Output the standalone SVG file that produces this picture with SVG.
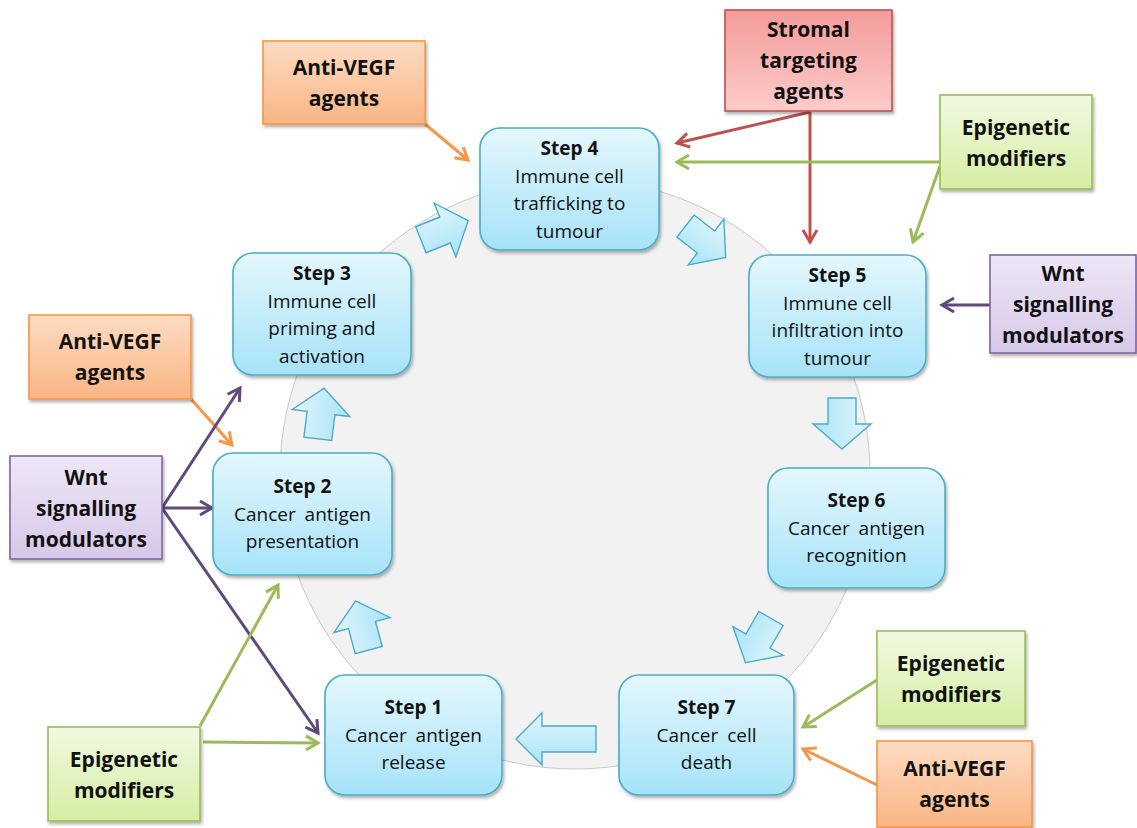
<svg xmlns="http://www.w3.org/2000/svg" width="1137" height="828" viewBox="0 0 1137 828">
<style>
.step{fill:url(#gStep);stroke:#4BACC6;stroke-width:1.6;filter:url(#sh)}
.ba{fill:url(#gArr);stroke:#4BACC6;stroke-width:1.4;stroke-linejoin:miter}
.t{font-family:"Open Sans","Noto Sans","Liberation Sans",sans-serif;font-size:19px;fill:#111;text-anchor:middle}
.tb{font-weight:bold}
.a{font-family:"Open Sans","Noto Sans","Liberation Sans",sans-serif;font-size:21px;font-weight:bold;fill:#111;text-anchor:middle}
.or{fill:url(#gOr);stroke:#F79646;stroke-width:1.6;filter:url(#sh)}
.gr{fill:url(#gGr);stroke:#9BBB59;stroke-width:1.6;filter:url(#sh)}
.pu{fill:url(#gPu);stroke:#8064A2;stroke-width:1.6;filter:url(#sh)}
.re{fill:url(#gRe);stroke:#C0504D;stroke-width:1.6;filter:url(#sh)}
.c{fill:none;stroke-width:3}
</style>
<defs>
<filter id="sh" x="-10%" y="-10%" width="130%" height="140%"><feDropShadow dx="1.5" dy="2.5" stdDeviation="1.8" flood-color="#000" flood-opacity="0.3"/></filter>
<linearGradient id="gStep" x1="0" y1="0" x2="0" y2="1"><stop offset="0" stop-color="#E4F7FD"/><stop offset="1" stop-color="#A6E3F8"/></linearGradient>
<linearGradient id="gArr" x1="0" y1="0" x2="0" y2="1"><stop offset="0" stop-color="#E2F6FD"/><stop offset="1" stop-color="#A8E3F7"/></linearGradient>
<linearGradient id="gOr" x1="0" y1="0" x2="0" y2="1"><stop offset="0" stop-color="#FDDCC3"/><stop offset="1" stop-color="#F9B584"/></linearGradient>
<linearGradient id="gGr" x1="0" y1="0" x2="0" y2="1"><stop offset="0" stop-color="#F1F9E3"/><stop offset="1" stop-color="#D5EEA2"/></linearGradient>
<linearGradient id="gPu" x1="0" y1="0" x2="0" y2="1"><stop offset="0" stop-color="#EEE7F6"/><stop offset="1" stop-color="#D6C8E8"/></linearGradient>
<linearGradient id="gRe" x1="0" y1="0" x2="0" y2="1"><stop offset="0" stop-color="#F29C9A"/><stop offset="1" stop-color="#FCCBCA"/></linearGradient>
<marker id="mO" viewBox="0 0 16 18" refX="14" refY="9" markerWidth="16" markerHeight="18" markerUnits="userSpaceOnUse" orient="auto" overflow="visible"><path d="M2,2 L14,9 L2,16" fill="none" stroke="#F79646" stroke-width="3"/></marker>
<marker id="mG" viewBox="0 0 16 18" refX="14" refY="9" markerWidth="16" markerHeight="18" markerUnits="userSpaceOnUse" orient="auto" overflow="visible"><path d="M2,2 L14,9 L2,16" fill="none" stroke="#9BBB59" stroke-width="3"/></marker>
<marker id="mP" viewBox="0 0 16 18" refX="14" refY="9" markerWidth="16" markerHeight="18" markerUnits="userSpaceOnUse" orient="auto" overflow="visible"><path d="M2,2 L14,9 L2,16" fill="none" stroke="#604A7B" stroke-width="3"/></marker>
<marker id="mR" viewBox="0 0 16 18" refX="14" refY="9" markerWidth="16" markerHeight="18" markerUnits="userSpaceOnUse" orient="auto" overflow="visible"><path d="M2,2 L14,9 L2,16" fill="none" stroke="#C0504D" stroke-width="3"/></marker>
<path id="barrow" d="M-26,-14 H0 V-29 L25,0 L0,29 V14 H-26 Z"/>
</defs>

<rect width="1137" height="828" fill="#FFFFFF"/>
<circle id="cycle" cx="575" cy="474" r="295" fill="#F2F2F2" stroke="#C8C8C8" stroke-width="1"/>

<g id="cycle-arrows">
<use href="#barrow" class="ba" transform="translate(445,230) rotate(-22)"/>
<use href="#barrow" class="ba" transform="translate(706,242) rotate(38)"/>
<use href="#barrow" class="ba" transform="translate(842,424) rotate(90)"/>
<use href="#barrow" class="ba" transform="translate(758,641) rotate(120)"/>
<path class="ba" d="M596,726 H542 V713 L516,739 L542,765 V752 H596 Z"/>
<use href="#barrow" class="ba" transform="translate(362,625) rotate(-105)"/>
<use href="#barrow" class="ba" transform="translate(321,413) rotate(-83)"/>
</g>

<g id="connectors">
<line class="c" x1="425" y1="124" x2="468" y2="160" stroke="#F79646" marker-end="url(#mO)"/>
<line class="c" x1="810" y1="112" x2="677" y2="143" stroke="#C0504D" marker-end="url(#mR)"/>
<line class="c" x1="810" y1="112" x2="810" y2="242" stroke="#C0504D" marker-end="url(#mR)"/>
<line class="c" x1="940" y1="162" x2="677" y2="162" stroke="#9BBB59" marker-end="url(#mG)"/>
<line class="c" x1="940" y1="166" x2="913" y2="242" stroke="#9BBB59" marker-end="url(#mG)"/>
<line class="c" x1="990" y1="305" x2="942" y2="305" stroke="#604A7B" marker-end="url(#mP)"/>
<line class="c" x1="191" y1="399" x2="232" y2="445" stroke="#F79646" marker-end="url(#mO)"/>
<line class="c" x1="162" y1="508" x2="240" y2="388" stroke="#604A7B" marker-end="url(#mP)"/>
<line class="c" x1="162" y1="508" x2="212" y2="508" stroke="#604A7B" marker-end="url(#mP)"/>
<line class="c" x1="162" y1="508" x2="318" y2="733" stroke="#604A7B" marker-end="url(#mP)"/>
<line class="c" x1="200" y1="726" x2="278" y2="585" stroke="#9BBB59" marker-end="url(#mG)"/>
<line class="c" x1="203" y1="742" x2="318" y2="743" stroke="#9BBB59" marker-end="url(#mG)"/>
<line class="c" x1="877" y1="680" x2="803" y2="727" stroke="#9BBB59" marker-end="url(#mG)"/>
<line class="c" x1="877" y1="785" x2="803" y2="749" stroke="#F79646" marker-end="url(#mO)"/>
</g>

<g id="step4"><rect class="step" x="480" y="128" width="179" height="122" rx="20"/>
<text class="t"><tspan class="tb" x="569.5" y="155">Step 4</tspan><tspan x="569.5" y="182.5">Immune cell</tspan><tspan x="569.5" y="210">trafficking to</tspan><tspan x="569.5" y="237.5">tumour</tspan></text></g>

<g id="step3"><rect class="step" x="233" y="253" width="178" height="122" rx="20"/>
<text class="t"><tspan class="tb" x="322" y="280">Step 3</tspan><tspan x="322" y="307.5">Immune cell</tspan><tspan x="322" y="335">priming and</tspan><tspan x="322" y="362.5">activation</tspan></text></g>

<g id="step5"><rect class="step" x="749" y="255" width="177" height="122" rx="20"/>
<text class="t"><tspan class="tb" x="837.5" y="282">Step 5</tspan><tspan x="837.5" y="309.5">Immune cell</tspan><tspan x="837.5" y="337">infiltration into</tspan><tspan x="837.5" y="364.5">tumour</tspan></text></g>

<g id="step2"><rect class="step" x="213" y="453" width="179" height="122" rx="20"/>
<text class="t" word-spacing="4"><tspan class="tb" x="302.5" y="493" word-spacing="0">Step 2</tspan><tspan x="302.5" y="521">Cancer antigen</tspan><tspan x="302.5" y="548">presentation</tspan></text></g>

<g id="step6"><rect class="step" x="768" y="468" width="177" height="120" rx="20"/>
<text class="t" word-spacing="4"><tspan class="tb" x="856.5" y="507" word-spacing="0">Step 6</tspan><tspan x="856.5" y="535">Cancer antigen</tspan><tspan x="856.5" y="562">recognition</tspan></text></g>

<g id="step1"><rect class="step" x="325" y="675" width="177" height="120" rx="20"/>
<text class="t" word-spacing="4"><tspan class="tb" x="413.5" y="714" word-spacing="0">Step 1</tspan><tspan x="413.5" y="742">Cancer antigen</tspan><tspan x="413.5" y="769">release</tspan></text></g>

<g id="step7"><rect class="step" x="619" y="675" width="175" height="120" rx="20"/>
<text class="t" word-spacing="4"><tspan class="tb" x="706.5" y="714" word-spacing="0">Step 7</tspan><tspan x="706.5" y="742">Cancer cell</tspan><tspan x="706.5" y="769">death</tspan></text></g>

<g id="antivegf-top"><rect class="or" x="263" y="41" width="162" height="83"/>
<text class="a"><tspan x="344" y="75">Anti-VEGF</tspan><tspan x="344" y="106">agents</tspan></text></g>

<g id="stromal"><rect class="re" x="725" y="10" width="167" height="101"/>
<text class="a"><tspan x="808.5" y="37">Stromal</tspan><tspan x="808.5" y="68">targeting</tspan><tspan x="808.5" y="99">agents</tspan></text></g>

<g id="epi-topright"><rect class="gr" x="940" y="95" width="152" height="94"/>
<text class="a"><tspan x="1016" y="135">Epigenetic</tspan><tspan x="1016" y="166">modifiers</tspan></text></g>

<g id="wnt-right"><rect class="pu" x="990" y="255" width="146" height="98"/>
<text class="a"><tspan x="1063" y="281">Wnt</tspan><tspan x="1063" y="312">signalling</tspan><tspan x="1063" y="343">modulators</tspan></text></g>

<g id="antivegf-left"><rect class="or" x="29" y="315" width="162" height="84"/>
<text class="a"><tspan x="110" y="349">Anti-VEGF</tspan><tspan x="110" y="380">agents</tspan></text></g>

<g id="wnt-left"><rect class="pu" x="10" y="456" width="152" height="103"/>
<text class="a"><tspan x="86" y="485">Wnt</tspan><tspan x="86" y="516">signalling</tspan><tspan x="86" y="547">modulators</tspan></text></g>

<g id="epi-bottomleft"><rect class="gr" x="48" y="727" width="152" height="94"/>
<text class="a"><tspan x="124" y="767">Epigenetic</tspan><tspan x="124" y="798">modifiers</tspan></text></g>

<g id="epi-right"><rect class="gr" x="877" y="631" width="148" height="95"/>
<text class="a"><tspan x="951" y="671">Epigenetic</tspan><tspan x="951" y="702">modifiers</tspan></text></g>

<g id="antivegf-bottomright"><rect class="or" x="877" y="741" width="155" height="86"/>
<text class="a"><tspan x="954.5" y="776">Anti-VEGF</tspan><tspan x="954.5" y="807">agents</tspan></text></g>
</svg>
